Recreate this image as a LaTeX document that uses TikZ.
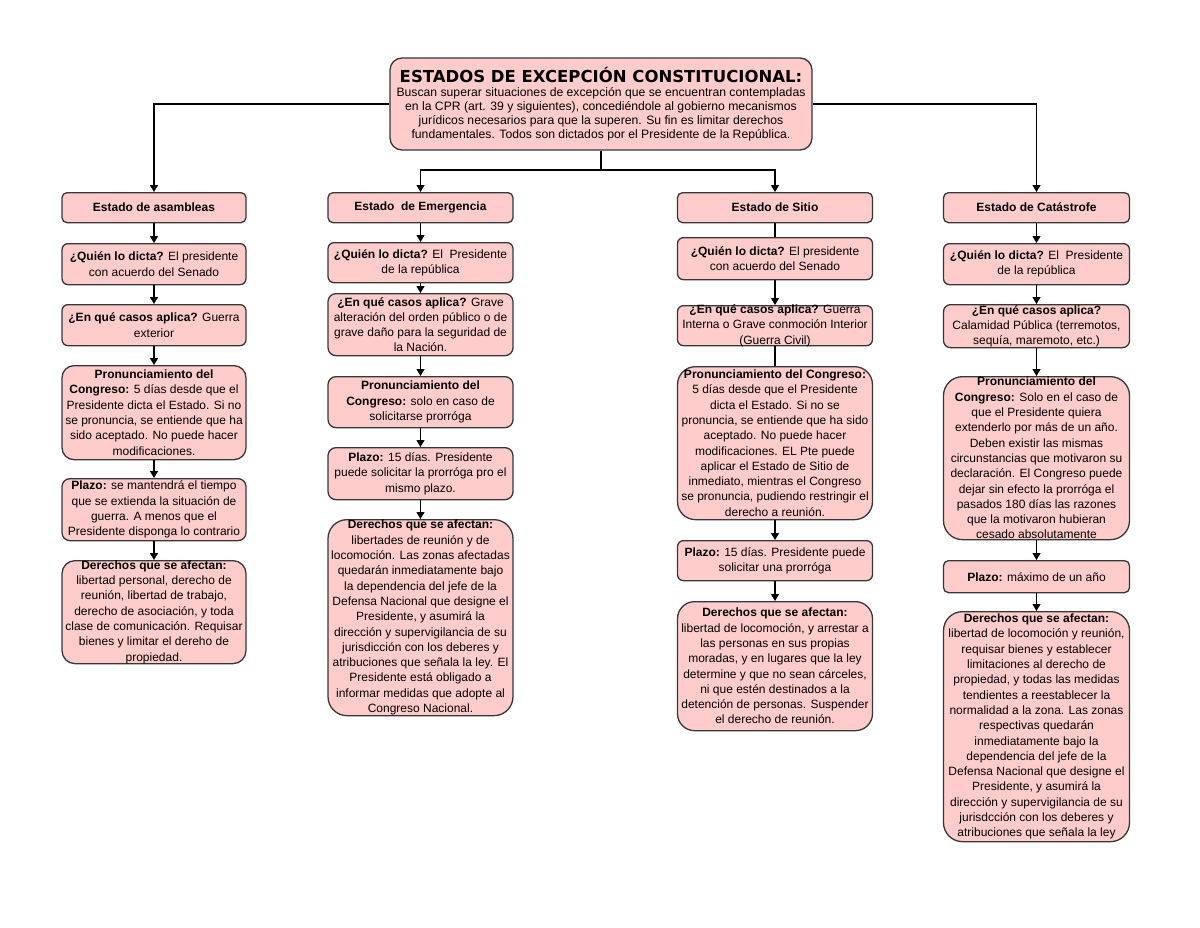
\documentclass[tikz,border=0pt]{standalone}
\usepackage{fontspec}
\setmainfont{Liberation Sans}
\newfontfamily\titlefont{DejaVu Sans}
\usetikzlibrary{arrows.meta}
\definecolor{pinkfill}{RGB}{255,204,204}
\definecolor{edgecol}{RGB}{55,55,55}
\tikzset{
 boxst/.style={draw=edgecol, line width=1.3pt, fill=pinkfill, inner sep=0pt},
 txt/.style={align=center, inner sep=0pt, font=\fontsize{12}{15.3}\selectfont},
 ttxt/.style={align=center, inner sep=0pt, font=\fontsize{12.2}{14}\selectfont},
 arr/.style={line width=1.1pt, draw=black, -{Triangle[length=7pt,width=8pt]}},
 ln/.style={line width=1.1pt, draw=black},
}
\newcommand{\cbox}[7]{%
 \node[boxst, rounded corners=#6pt, minimum width=#4pt, minimum height=#5pt, anchor=north] (#1) at (#2,#3) {};
 \node[txt] (#1t) at (#1.center) {#7};
}
\begin{document}
\begin{tikzpicture}[x=1pt,y=-1pt]
\useasboundingbox (0,0) rectangle (1200,927);
% title
\node[boxst, rounded corners=12pt, minimum width=422pt, minimum height=92pt] (title) at (601,104) {};
\node[ttxt] (titlet) at (title.center) {{\titlefont\bfseries\fontsize{16.5}{18}\selectfont ESTADOS DE EXCEPCIÓN CONSTITUCIONAL:}\\
Buscan superar situaciones de excepción que se encuentran contempladas\\
en la CPR (art. 39 y siguientes), concediéndole al gobierno mecanismos\\
jurídicos necesarios para que la superen. Su fin es limitar derechos\\
fundamentales. Todos son dictados por el Presidente de la República.};
% column 1
\cbox{a1}{154}{192}{184}{30}{5}{\textbf{Estado de asambleas}}
\cbox{a2}{154}{243}{184}{41}{6}{\textbf{¿Quién lo dicta?} El presidente\\con acuerdo del Senado}
\cbox{a3}{154}{304}{184}{41}{6}{\textbf{¿En qué casos aplica?} Guerra\\exterior}
\cbox{a4}{154}{365}{184}{94}{12}{\textbf{Pronunciamiento del}\\\textbf{Congreso:} 5 días desde que el\\Presidente dicta el Estado. Si no\\se pronuncia, se entiende que ha\\sido aceptado. No puede hacer\\modificaciones.}
\cbox{a5}{154}{478}{184}{62}{8}{\textbf{Plazo:} se mantendrá el tiempo\\que se extienda la situación de\\guerra. A menos que el\\Presidente disponga lo contrario}
\cbox{a6}{154}{560}{184}{103}{13}{\textbf{Derechos que se afectan:}\\libertad personal, derecho de\\reunión, libertad de trabajo,\\derecho de asociación, y toda\\clase de comunicación. Requisar\\bienes y limitar el dereho de\\propiedad.}
% column 2
\cbox{b1}{420.5}{192}{185}{30}{5}{\textbf{Estado\ \ de Emergencia}}
\cbox{b2}{420.5}{242}{185}{40}{6}{\textbf{¿Quién lo dicta?} El\ \ Presidente\\de la república}
\cbox{b3}{420.5}{293}{185}{62}{8}{\textbf{¿En qué casos aplica?} Grave\\alteración del orden público o de\\grave daño para la seguridad de\\la Nación.}
\cbox{b4}{420.5}{376}{185}{51}{8}{\textbf{Pronunciamiento del}\\\textbf{Congreso:} solo en caso de\\solicitarse prorróga}
\cbox{b5}{420.5}{447}{185}{52}{8}{\textbf{Plazo:} 15 días. Presidente\\puede solicitar la prorróga pro el\\mismo plazo.}
\cbox{b6}{420.5}{519}{185}{196}{19}{\textbf{Derechos que se afectan:}\\libertades de reunión y de\\locomoción. Las zonas afectadas\\quedarán inmediatamente bajo\\la dependencia del jefe de la\\Defensa Nacional que designe el\\Presidente, y asumirá la\\dirección y supervigilancia de su\\jurisdicción con los deberes y\\atribuciones que señala la ley. El\\Presidente está obligado a\\informar medidas que adopte al\\Congreso Nacional.}
% column 3
\cbox{s1}{775}{192}{195}{30}{5}{\textbf{Estado de Sitio}}
\cbox{s2}{775}{237}{195}{42}{6}{\textbf{¿Quién lo dicta?} El presidente\\con acuerdo del Senado}
\cbox{s3}{775}{305}{195}{40}{6}{\textbf{¿En qué casos aplica?} Guerra\\Interna o Grave conmoción Interior\\(Guerra Civil)}
\cbox{s4}{775}{366}{195}{153}{18}{\textbf{Pronunciamiento del Congreso:}\\5 días desde que el Presidente\\dicta el Estado. Si no se\\pronuncia, se entiende que ha sido\\aceptado. No puede hacer\\modificaciones. EL Pte puede\\aplicar el Estado de Sitio de\\inmediato, mientras el Congreso\\se pronuncia, pudiendo restringir el\\derecho a reunión.}
\cbox{s5}{775}{540}{195}{40}{6}{\textbf{Plazo:} 15 días. Presidente puede\\solicitar una prorróga}
\cbox{s6}{775}{601}{195}{129}{17}{\textbf{Derechos que se afectan:}\\libertad de locomoción, y arrestar a\\las personas en sus propias\\moradas, y en lugares que la ley\\determine y que no sean cárceles,\\ni que estén destinados a la\\detención de personas. Suspender\\el derecho de reunión.}
% column 4
\cbox{k1}{1036.5}{192}{186}{30}{5}{\textbf{Estado de Catástrofe}}
\cbox{k2}{1036.5}{243}{186}{41}{6}{\textbf{¿Quién lo dicta?} El\ \ Presidente\\de la república}
\cbox{k3}{1036.5}{304}{186}{43}{7}{\textbf{¿En qué casos aplica?}\\Calamidad Pública (terremotos,\\sequía, maremoto, etc.)}
\cbox{k4}{1036.5}{376}{186}{163}{19}{\textbf{Pronunciamiento del}\\\textbf{Congreso:} Solo en el caso de\\que el Presidente quiera\\extenderlo por más de un año.\\Deben existir las mismas\\circunstancias que motivaron su\\declaración. El Congreso puede\\dejar sin efecto la prorróga el\\pasados 180 días las razones\\que la motivaron hubieran\\cesado absolutamente}
\cbox{k5}{1036.5}{560}{186}{32}{5}{\textbf{Plazo:} máximo de un año}
\cbox{k6}{1036.5}{611}{186}{230}{19}{\textbf{Derechos que se afectan:}\\libertad de locomoción y reunión,\\requisar bienes y establecer\\limitaciones al derecho de\\propiedad, y todas las medidas\\tendientes a reestablecer la\\normalidad a la zona. Las zonas\\respectivas quedarán\\inmediatamente bajo la\\dependencia del jefe de la\\Defensa Nacional que designe el\\Presidente, y asumirá la\\dirección y supervigilancia de su\\jurisdcción con los deberes y\\atribuciones que señala la ley}
% top connectors
\coordinate (jn) at (601,170);
\draw[arr] (title.west) -| (a1.north);
\draw[arr] (title.east) -| (k1.north);
\draw[ln] (title.south) -- (jn);
\draw[arr] (jn) -| (b1.north);
\draw[arr] (jn) -| (s1.north);
% column connectors
\foreach \p/\q in {a1/a2,a2/a3,a3/a4,a4/a5,a5/a6,b1/b2,b2/b3,b3/b4,b4/b5,b5/b6,s2/s3,s4/s5,s5/s6,k1/k2,k2/k3,k3/k4,k4/k5,k5/k6}
  \draw[arr] (\p.south) -- (\q.north);
\foreach \p/\q in {s1/s2,s3/s4}
  \draw[ln] (\p.south) -- (\q.north);
\end{tikzpicture}
\end{document}
